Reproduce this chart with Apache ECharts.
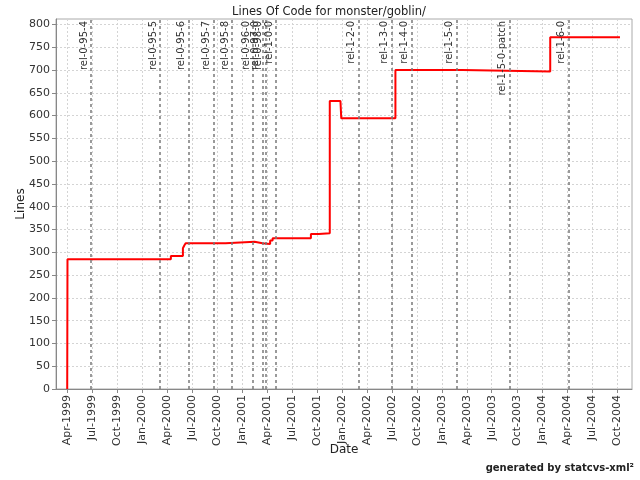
<!DOCTYPE html>
<html>
<head>
<meta charset="utf-8">
<script src="https://cdn.jsdelivr.net/npm/echarts@6/dist/echarts.min.js"></script>
<style>html,body{margin:0;padding:0;background:#fff}#c{width:640px;height:480px}</style>
</head>
<body>
<div id="c"></div>
<script>
var locDates = ['1999-04-01','1999-04-02','2000-04-14','2000-05-28','2000-06-02','2000-06-07','2000-10-31','2001-02-14','2001-03-15','2001-04-12','2001-04-21','2001-09-08','2001-10-07','2001-11-16','2001-12-25','2001-12-28','2002-07-14','2003-03-16','2004-01-31','2004-10-12'];
var locValues = [0,285,292,309,315,320,323,320,318,326,331,340,342,632,634,594,700,697,772,772];
var tagNames = ['rel-0-95-4','rel-0-95-5','rel-0-95-6','rel-0-95-7','rel-0-95-8','rel-0-96-0','rel-0-97-0','rel-0-98-0','rel-1-0-0','rel-1-2-0','rel-1-3-0','rel-1-4-0','rel-1-5-0','rel-1-5-0-patch','rel-1-6-0'];
var tagDates = ['1999-06-27','2000-03-06','2000-06-17','2000-09-17','2000-11-24','2001-02-09','2001-03-15','2001-03-26','2001-05-04','2002-03-01','2002-06-30','2002-09-11','2003-02-22','2003-09-05','2004-04-08'];
var months = ['Jan','Feb','Mar','Apr','May','Jun','Jul','Aug','Sep','Oct','Nov','Dec'];

var font = 'DejaVu Sans';
var chart = echarts.init(document.getElementById('c'), null, {renderer:'canvas'});
var lineData = locDates.map(function(d,i){return [d, locValues[i]];});
var tagData = tagNames.map(function(n,i){return {name:n, xAxis:tagDates[i]};});
var Q = 3*31*24*3600*1000;
chart.setOption({
  animation:false,
  backgroundColor:'#fff',
  title:{text:'Lines Of Code for monster/goblin/', left:324, textAlign:'center', top:1,
    textStyle:{fontFamily:font, fontSize:11.5, fontWeight:'normal', color:'#222'}},
  grid:{left:56, right:8, top:19, bottom:91, show:true, borderColor:'#aaa', borderWidth:1},
  xAxis:{type:'time', min:'1999-02-19', max:'2004-11-25', splitNumber:23, minInterval:Q, maxInterval:Q,
    name:'Date', nameLocation:'middle', nameGap:55, nameMoveOverlap:false,
    nameTextStyle:{fontFamily:font, fontSize:12, color:'#222'},
    axisLine:{lineStyle:{color:'#888'}},
    axisTick:{show:true, length:4, lineStyle:{color:'#888'}},
    axisLabel:{rotate:90, fontFamily:font, fontSize:11, color:'#333', margin:6, interval:0,
      showMinLabel:false, showMaxLabel:false,
      formatter:function(v){var d=new Date(v); if(d.getDate()!==1||d.getMonth()%3!==0) return ''; return months[d.getMonth()]+'-'+d.getFullYear();}},
    splitLine:{show:true, lineStyle:{color:'#d4d4d4', type:[2,2], width:1}}
  },
  yAxis:{type:'value', min:0, max:812, interval:50,
    name:'Lines', nameLocation:'middle', nameGap:29, nameMoveOverlap:false,
    nameTextStyle:{fontFamily:font, fontSize:12, color:'#222'},
    axisLine:{show:true, lineStyle:{color:'#888'}},
    axisTick:{show:true, length:4, lineStyle:{color:'#888'}},
    axisLabel:{fontFamily:font, fontSize:11, color:'#333', margin:6, showMaxLabel:false,
      formatter:function(v){return v%50===0?String(v):'';}},
    splitLine:{show:true, lineStyle:{color:'#d4d4d4', type:[2,2], width:1}}
  },
  series:[{type:'line', step:'end', data:lineData, showSymbol:false, symbol:'none',
    lineStyle:{color:'#ff0000', width:2},
    markLine:{silent:true, symbol:'none', animation:false,
      lineStyle:{color:'#7a7a7a', type:[3,3], width:1.5},
      label:{show:true, position:'insideEndTop', formatter:'{b}', fontFamily:font, fontSize:10, color:'#333', distance:[2,2]},
      data:tagData}
  }],
  graphic:[{type:'text', right:6, bottom:7, style:{text:'generated by statcvs-xml\u00b2', font:'bold 10px "DejaVu Sans"', fill:'#222'}}]
});
</script>
</body>
</html>
